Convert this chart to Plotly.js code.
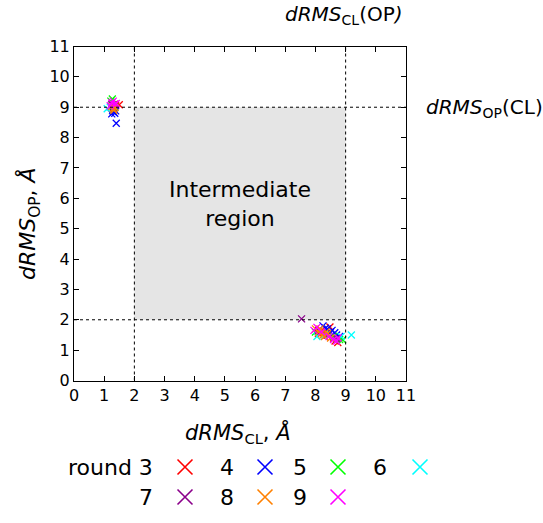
<!DOCTYPE html>
<html>
<head>
<meta charset="utf-8">
<script src="https://cdn.plot.ly/plotly-3.0.1.min.js"></script>
<style>html,body{margin:0;padding:0;background:#fff}#chart{width:543px;height:523px}</style>
</head>
<body>
<div id="chart"></div>
<script>
// ---- data ----
var rounds = ["3", "4", "5", "6", "7", "8", "9"];
var colors = ["#ff0000", "#0000ff", "#00ff00", "#00ffff", "#8b008b", "#ff8000", "#ff00ff"];

var r3x = [1.32, 1.38, 1.50, 1.28, 1.35, 8.48, 8.30, 8.74, 8.60, 8.20, 8.65, 8.10, 8.38];
var r3y = [9.00, 9.05, 9.08, 8.95, 9.10, 1.76, 1.60, 1.25, 1.40, 1.65, 1.30, 1.55, 1.50];
var r4x = [1.30, 1.35, 1.25, 1.40, 1.38, 1.28, 8.25, 8.40, 8.64, 8.55, 8.70, 8.80, 8.50, 8.33];
var r4y = [8.85, 8.80, 8.78, 8.47, 8.88, 8.90, 1.80, 1.70, 1.57, 1.65, 1.50, 1.45, 1.60, 1.72];
var r5x = [1.27, 1.22, 1.35, 8.90, 8.80, 8.00, 8.60];
var r5y = [9.27, 9.20, 9.00, 1.34, 1.35, 1.60, 1.45];
var r6x = [1.10, 1.20, 9.19, 8.05, 8.85, 8.30];
var r6y = [8.95, 9.00, 1.50, 1.45, 1.45, 1.50];
var r7x = [1.30, 1.25, 7.54, 8.70, 8.40, 8.10];
var r7y = [9.05, 9.10, 2.03, 1.38, 1.50, 1.65];
var r8x = [1.30, 1.35, 1.25, 1.32, 8.00, 8.10, 8.20, 8.30, 8.40, 8.15, 8.50, 8.25, 8.35];
var r8y = [8.95, 8.98, 9.02, 8.90, 1.70, 1.60, 1.55, 1.45, 1.55, 1.70, 1.40, 1.50, 1.60];
var r9x = [1.25, 1.30, 1.35, 1.20, 1.40, 8.05, 8.60, 8.70, 8.20, 8.45, 8.75, 7.95];
var r9y = [9.15, 9.20, 9.10, 9.05, 9.12, 1.75, 1.35, 1.30, 1.60, 1.45, 1.40, 1.65];

var xs = [r3x, r4x, r5x, r6x, r7x, r8x, r9x];
var ys = [r3y, r4y, r5y, r6y, r7y, r8y, r9y];

var xTicks = [0, 1, 2, 3, 4, 5, 6, 7, 8, 9, 10, 11];
var yTicks = [0, 1, 2, 3, 4, 5, 6, 7, 8, 9, 10, 11];
var regionLow = 2, regionHigh = 9;

// ---- layout geometry (pixels) ----
var W = 543, H = 523;
var PL = 74, PR = 406, PT = 46.5, PB = 380.5;
var FONT = "DejaVu Sans, Verdana, sans-serif";

var traces = [];
for (var i = 0; i < rounds.length; i++) {
  traces.push({
    x: xs[i], y: ys[i], type: "scatter", mode: "markers",
    xaxis: "x", yaxis: "y", showlegend: false, hoverinfo: "x+y",
    marker: {symbol: "x-thin-open", size: 7, color: colors[i], line: {color: colors[i], width: 1.3}}
  });
}

// legend (gnuplot style: label then sample), positioned on a pixel overlay axis
var legRowY = [467, 497];
var legLabelRight = [155, 236, 309, 389];
var legSampleX = [185, 265, 338, 420];
var annotations = [];
for (var j = 0; j < rounds.length; j++) {
  var row = Math.floor(j / 4), col = j % 4;
  annotations.push({
    xref: "x2", yref: "y2", x: legLabelRight[col], y: legRowY[row],
    xanchor: "right", yanchor: "middle", showarrow: false,
    text: (j === 0 ? "round " : "") + rounds[j],
    font: {family: FONT, size: 22, color: "#000"}
  });
  traces.push({
    x: [legSampleX[col]], y: [legRowY[row]], type: "scatter", mode: "markers",
    xaxis: "x2", yaxis: "y2", showlegend: false, hoverinfo: "skip",
    marker: {symbol: "x-thin-open", size: 15, color: colors[j], line: {color: colors[j], width: 1.6}}
  });
}

// axis titles and line labels
annotations.push({xref: "x2", yref: "y2", x: 238, y: 433, showarrow: false, xanchor: "center", yanchor: "middle",
  text: "<i>dRMS</i><sub>CL</sub>, <i>Å</i>", font: {family: FONT, size: 21, color: "#000"}});
annotations.push({xref: "x2", yref: "y2", x: 29, y: 224, showarrow: false, xanchor: "center", yanchor: "middle", textangle: -90,
  text: "<i>dRMS</i><sub>OP</sub>, <i>Å</i>", font: {family: FONT, size: 22, color: "#000"}});
annotations.push({xref: "x2", yref: "y2", x: 344, y: 15, showarrow: false, xanchor: "center", yanchor: "middle",
  text: "<i>dRMS</i><sub>CL</sub>(OP<i>)</i>", font: {family: FONT, size: 20, color: "#000"}});
annotations.push({xref: "x2", yref: "y2", x: 424, y: 108, showarrow: false, xanchor: "left", yanchor: "middle",
  text: "<i>dRMS</i><sub>OP</sub>(CL)", font: {family: FONT, size: 20, color: "#000"}});
annotations.push({xref: "x", yref: "y", x: (regionLow + regionHigh) / 2, y: 5.8,
  showarrow: false, xanchor: "center", yanchor: "middle",
  text: "Intermediate<br>region", font: {family: FONT, size: 22, color: "#000"}});

var dash = {color: "#000", width: 1, dash: "3px,3px"};
var shapes = [
  {type: "rect", xref: "x", yref: "y", x0: regionLow, x1: regionHigh, y0: regionLow, y1: regionHigh,
   fillcolor: "#e5e5e5", line: {width: 0}, layer: "below"},
  {type: "line", xref: "x", yref: "y", x0: regionLow, x1: regionLow, y0: 0, y1: 11, line: dash},
  {type: "line", xref: "x", yref: "y", x0: regionHigh, x1: regionHigh, y0: 0, y1: 11, line: dash},
  {type: "line", xref: "x", yref: "y", x0: 0, x1: 11, y0: regionLow, y1: regionLow, line: dash},
  {type: "line", xref: "x", yref: "y", x0: 0, x1: 11, y0: regionHigh, y1: regionHigh, line: dash}
];

var layout = {
  width: W, height: H,
  margin: {l: 0, r: 0, t: 0, b: 0, pad: 0},
  paper_bgcolor: "#fff", plot_bgcolor: "rgba(0,0,0,0)",
  showlegend: false,
  font: {family: FONT, color: "#000"},
  xaxis: {
    domain: [PL / W, PR / W], range: [0, 11], tickvals: xTicks, ticktext: xTicks.map(String),
    ticks: "inside", ticklen: 5, tickwidth: 1, tickcolor: "#000",
    showline: true, linecolor: "#000", linewidth: 1, mirror: "ticks",
    showgrid: false, zeroline: false, fixedrange: true,
    tickfont: {family: FONT, size: 16, color: "#000"}
  },
  yaxis: {
    domain: [1 - PB / H, 1 - PT / H], range: [0, 11], tickvals: yTicks, ticktext: yTicks.map(String),
    ticks: "inside", ticklen: 5, tickwidth: 1, tickcolor: "#000",
    showline: true, linecolor: "#000", linewidth: 1, mirror: "ticks",
    showgrid: false, zeroline: false, fixedrange: true,
    tickfont: {family: FONT, size: 16, color: "#000"}
  },
  xaxis2: {domain: [0, 1], range: [0, W], visible: false, fixedrange: true, anchor: "y2"},
  yaxis2: {domain: [0, 1], range: [H, 0], visible: false, fixedrange: true, anchor: "x2"},
  shapes: shapes,
  annotations: annotations
};

Plotly.newPlot("chart", traces, layout, {displayModeBar: false, staticPlot: true});
</script>
</body>
</html>
